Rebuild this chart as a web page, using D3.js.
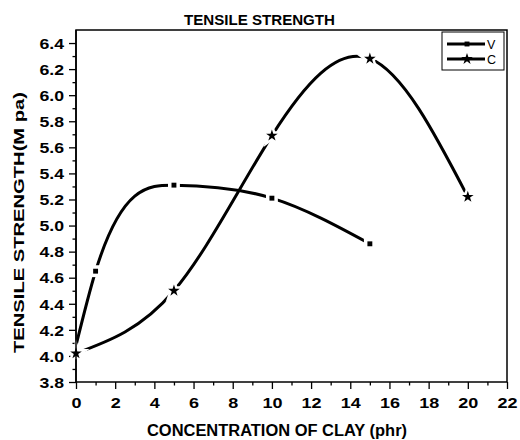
<!DOCTYPE html>
<html><head><meta charset="utf-8">
<script src="https://cdn.jsdelivr.net/npm/d3@7"></script>
<style>body{margin:0;background:#fff;} svg{display:block;} text{font-family:"Liberation Sans",Arial,sans-serif;}</style>
</head><body>
<script>
const vX = [0, 1, 5, 10, 15];
const vY = [4.08, 4.65, 5.31, 5.21, 4.86];
const cX = [0, 5, 10, 15, 20];
const cY = [4.02, 4.5, 5.69, 6.28, 5.22];
const xTicks = [0, 2, 4, 6, 8, 10, 12, 14, 16, 18, 20, 22];
const yTicks = [3.8, 4.0, 4.2, 4.4, 4.6, 4.8, 5.0, 5.2, 5.4, 5.6, 5.8, 6.0, 6.2, 6.4];
const seriesNames = ["V", "C"];

const W = 520, H = 440;
const m = {l: 76, r: 13, t: 30, b: 58};
const svg = d3.select("body").append("svg").attr("width", W).attr("height", H);
const x = d3.scaleLinear().domain([0, 22]).range([m.l, W - m.r]);
const y = d3.scaleLinear().domain([3.8, 6.5]).range([H - m.b, m.t]);

// natural cubic spline with x as the independent variable, as a d3 curve
function curveNaturalX(context) {
  let xs = [], ys = [];
  return {
    areaStart() {}, areaEnd() {},
    lineStart() { xs = []; ys = []; },
    point(px, py) { xs.push(+px); ys.push(+py); },
    lineEnd() {
      const n = xs.length;
      if (!n) return;
      context.moveTo(xs[0], ys[0]);
      if (n === 2) { context.lineTo(xs[1], ys[1]); return; }
      const h = [], s = [];
      for (let i = 0; i < n - 1; i++) { h.push(xs[i + 1] - xs[i]); s.push((ys[i + 1] - ys[i]) / h[i]); }
      const M = new Array(n).fill(0);
      const a = [], b = [], c = [], r = [];
      for (let i = 1; i < n - 1; i++) {
        a.push(h[i - 1]); b.push(2 * (h[i - 1] + h[i])); c.push(h[i]); r.push(6 * (s[i] - s[i - 1]));
      }
      const k = b.length;
      for (let i = 1; i < k; i++) {
        const w = a[i] / b[i - 1];
        b[i] -= w * c[i - 1]; r[i] -= w * r[i - 1];
      }
      const sol = new Array(k);
      sol[k - 1] = r[k - 1] / b[k - 1];
      for (let i = k - 2; i >= 0; i--) sol[i] = (r[i] - c[i] * sol[i + 1]) / b[i];
      for (let i = 0; i < k; i++) M[i + 1] = sol[i];
      for (let i = 0; i < n - 1; i++) {
        const m0 = s[i] - h[i] * (2 * M[i] + M[i + 1]) / 6;
        const m1 = s[i] + h[i] * (M[i] + 2 * M[i + 1]) / 6;
        context.bezierCurveTo(xs[i] + h[i] / 3, ys[i] + m0 * h[i] / 3,
                              xs[i + 1] - h[i] / 3, ys[i + 1] - m1 * h[i] / 3,
                              xs[i + 1], ys[i + 1]);
      }
    }
  };
}

// frame
svg.append("rect").attr("x", m.l).attr("y", m.t).attr("width", W - m.r - m.l).attr("height", H - m.b - m.t)
  .attr("fill", "none").attr("stroke", "#000").attr("stroke-width", 1.5);

const xMinor = d3.range(1, 22, 2);
const yMinor = d3.range(3.9, 6.5, 0.2);

const gxm = svg.append("g").attr("transform", `translate(0,${H - m.b})`)
  .call(d3.axisBottom(x).tickValues(xMinor).tickSize(3.5).tickFormat(""));
const gx = svg.append("g").attr("transform", `translate(0,${H - m.b})`)
  .call(d3.axisBottom(x).tickValues(xTicks).tickSize(7).tickFormat(d3.format("d")));
const gym = svg.append("g").attr("transform", `translate(${m.l},0)`)
  .call(d3.axisLeft(y).tickValues(yMinor).tickSize(3.5).tickFormat(""));
const gy = svg.append("g").attr("transform", `translate(${m.l},0)`)
  .call(d3.axisLeft(y).tickValues(yTicks).tickSize(7).tickFormat(d3.format(".1f")));
[gxm, gx, gym, gy].forEach(g => {
  g.selectAll(".domain").remove();
  g.selectAll("line").attr("stroke-width", 1.3);
});
gx.selectAll("text").attr("font-size", 15).attr("font-weight", "bold").attr("fill", "#000")
  .attr("y", 0).attr("dy", null).attr("transform", "translate(0,26) scale(1.2,1)");
gy.selectAll("text").attr("font-size", 14.5).attr("font-weight", "bold").attr("fill", "#000")
  .attr("x", 0).attr("dy", "0.36em").attr("transform", "translate(-12,0) scale(1.22,1)");

// titles
svg.append("text").attr("x", 259.5).attr("y", 25).attr("text-anchor", "middle")
  .attr("font-size", 15).attr("font-weight", "bold").attr("textLength", 151).attr("lengthAdjust", "spacingAndGlyphs")
  .text("TENSILE STRENGTH");
svg.append("text").attr("x", 277).attr("y", 436).attr("text-anchor", "middle")
  .attr("font-size", 16).attr("font-weight", "bold").attr("textLength", 260).attr("lengthAdjust", "spacingAndGlyphs")
  .text("CONCENTRATION OF CLAY (phr)");
svg.append("text").attr("transform", "translate(24,222.5) rotate(-90)").attr("text-anchor", "middle")
  .attr("font-size", 15).attr("font-weight", "bold").attr("textLength", 261).attr("lengthAdjust", "spacingAndGlyphs")
  .text("TENSILE STRENGTH(M pa)");

const line = d3.line().x(d => x(d[0])).y(d => y(d[1])).curve(curveNaturalX);
const vData = vX.map((d, i) => [d, vY[i]]);
const cData = cX.map((d, i) => [d, cY[i]]);

const plot = svg.append("g");
plot.append("path").datum(vData).attr("d", line).attr("fill", "none").attr("stroke", "#000").attr("stroke-width", 3);
plot.append("path").datum(cData).attr("d", line).attr("fill", "none").attr("stroke", "#000").attr("stroke-width", 3);

const star = d3.symbol().type(d3.symbolStar).size(42);
const sq = d3.symbol().type(d3.symbolSquare).size(24);
plot.selectAll(".vh").data(vData.slice(1)).enter().append("path")
  .attr("transform", d => `translate(${x(d[0])},${y(d[1])})`).attr("d", sq)
  .attr("fill", "#fff").attr("stroke", "#fff").attr("stroke-width", 7);
plot.selectAll(".ch").data(cData).enter().append("path")
  .attr("transform", d => `translate(${x(d[0])},${y(d[1])})`).attr("d", star)
  .attr("fill", "#fff").attr("stroke", "#fff").attr("stroke-width", 5);
plot.selectAll(".vm").data(vData.slice(1)).enter().append("path")
  .attr("transform", d => `translate(${x(d[0])},${y(d[1])})`).attr("d", sq).attr("fill", "#000");
plot.selectAll(".cm").data(cData).enter().append("path")
  .attr("transform", d => `translate(${x(d[0])},${y(d[1])})`).attr("d", star).attr("fill", "#000");

svg.append("line").attr("x1", m.l).attr("x2", m.l).attr("y1", m.t).attr("y2", H - m.b).attr("stroke", "#000").attr("stroke-width", 1.5);

// legend
const lg = svg.append("g");
lg.append("rect").attr("x", 442).attr("y", 32).attr("width", 62).attr("height", 38)
  .attr("fill", "#fff").attr("stroke", "#000").attr("stroke-width", 1);
seriesNames.forEach((n, i) => {
  const yy = 44 + i * 15;
  lg.append("line").attr("x1", 447).attr("x2", 485).attr("y1", yy).attr("y2", yy).attr("stroke", "#000").attr("stroke-width", 3);
  lg.append("path").attr("transform", `translate(467,${yy})`).attr("d", i === 0 ? sq : star).attr("fill", "#000");
  lg.append("text").attr("x", 487).attr("y", yy + 4.5).attr("font-size", 12.5).text(n);
});
</script>
</body></html>
